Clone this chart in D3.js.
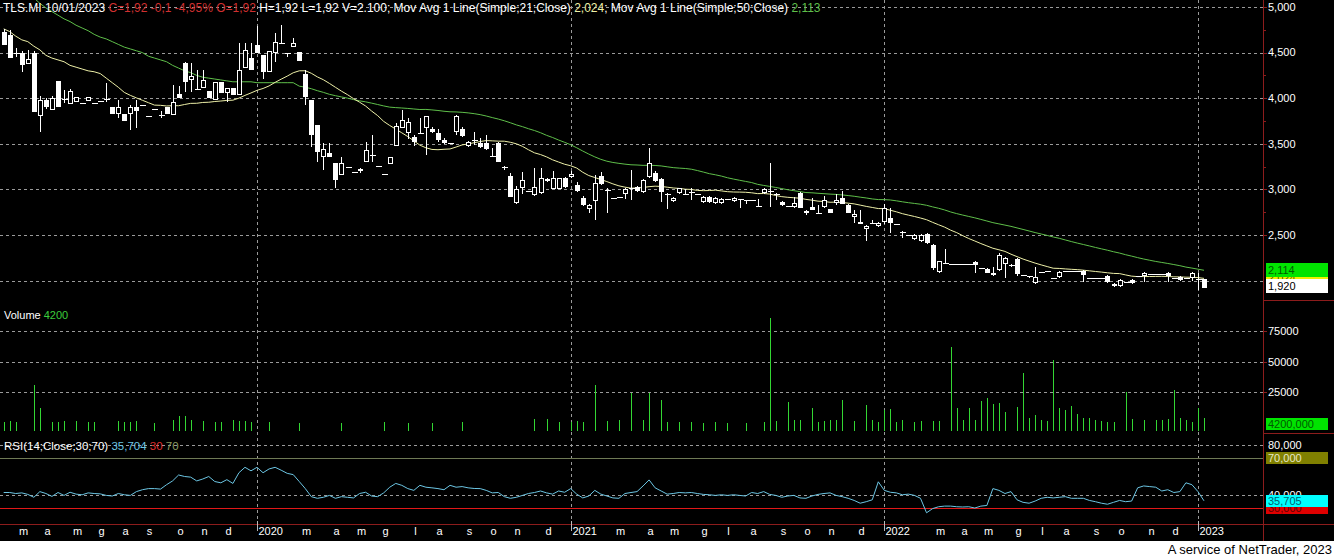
<!DOCTYPE html>
<html><head><meta charset="utf-8">
<script src="https://cdn.jsdelivr.net/npm/d3@7"></script>
<style>html,body{margin:0;padding:0;background:#000;overflow:hidden}svg{display:block}</style>
</head><body>
<svg id="chart" width="1334" height="559"></svg>
<script>
// ---------------- DATA (weekly bars, TLS.MI) ----------------
const firstWeek = "2019-02-11";
const lastWeek = "2023-01-09";
const noTradeWeeks = ["2019-07-01","2019-07-08","2019-07-15","2019-07-22","2019-07-29"];
const opens = [
4.73,4.69,4.50,4.50,4.38,4.50,3.81,3.98,3.87,4.19,3.99,3.94,3.96,3.95,3.97,3.95,3.97,3.99,3.90,3.83,
3.83,3.83,3.90,3.93,3.80,3.88,3.82,3.90,3.82,4.05,4.39,4.20,4.10,4.11,4.08,3.98,4.18,4.06,4.11,4.03,
4.33,4.44,4.58,
4.47,4.29,4.50,4.61,4.50,4.56,4.51,4.27,3.98,3.71,3.35,3.40,3.29,3.16,3.25,3.19,3.20,3.30,3.38,3.26,
3.17,3.28,3.48,3.67,3.62,3.57,3.62,3.67,3.66,3.62,3.54,3.51,3.63,3.66,3.48,3.54,3.51,3.51,3.37,3.51,
3.25,3.15,2.85,3.02,2.98,2.94,2.96,3.11,3.00,3.00,3.12,
3.14,3.05,2.91,2.79,2.87,3.15,2.99,2.91,2.92,2.95,3.01,3.03,2.97,3.14,3.18,3.11,2.95,2.87,2.96,2.95,
2.97,2.95,2.86,2.92,2.85,2.85,2.89,2.87,2.89,2.88,2.88,2.82,2.96,2.97,2.95,2.86,2.82,2.81,2.96,2.76,
2.81,2.74,2.81,2.78,2.85,2.91,2.83,2.70,2.64,2.57,2.63,2.60,
2.64,2.69,2.62,2.53,2.50,2.46,2.43,2.51,2.39,2.09,2.19,2.18,2.18,2.18,2.18,2.20,2.14,2.13,2.08,2.12,
2.18,2.17,2.24,2.06,2.05,1.97,2.09,2.11,2.03,2.04,2.10,2.10,2.10,2.11,2.03,2.03,2.03,2.05,1.96,1.94,
1.98,2.01,2.05,2.05,2.07,2.07,2.07,2.08,2.03,2.04,2.03,2.03,2.02,2.02];
const highs = [
4.76,4.75,4.55,4.52,4.53,4.52,4.02,4.00,4.02,4.19,4.09,4.10,4.01,3.95,4.01,3.95,3.97,4.17,3.90,3.98,
3.83,3.92,3.98,3.93,3.80,3.88,3.86,3.90,4.14,4.13,4.40,4.39,4.31,4.31,4.08,4.18,4.18,4.11,4.11,4.61,
4.61,4.61,4.79,
4.47,4.52,4.72,4.80,4.50,4.66,4.51,4.31,3.98,3.71,3.51,3.51,3.29,3.36,3.25,3.19,3.24,3.52,3.60,3.26,
3.17,3.35,3.73,3.87,3.78,3.60,3.78,3.80,3.68,3.66,3.56,3.51,3.82,3.68,3.53,3.63,3.56,3.60,3.45,3.52,
3.26,3.18,3.04,3.19,2.98,3.23,3.23,3.13,3.20,3.13,3.14,
3.20,3.08,2.93,2.84,3.16,3.19,3.01,2.91,2.92,3.01,3.21,3.04,3.11,3.45,3.20,3.12,2.96,2.92,3.02,3.00,
3.01,2.95,2.93,2.93,2.92,2.91,2.89,2.92,2.90,2.88,2.88,2.90,3.01,3.29,2.96,2.87,2.82,2.92,2.97,2.77,
2.91,2.83,2.93,2.79,2.95,2.98,2.84,2.77,2.77,2.61,2.66,2.64,
2.84,2.80,2.62,2.54,2.50,2.51,2.51,2.52,2.40,2.22,2.35,2.18,2.18,2.18,2.18,2.21,2.14,2.14,2.15,2.30,
2.26,2.18,2.25,2.06,2.05,2.15,2.09,2.11,2.03,2.10,2.10,2.10,2.10,2.12,2.03,2.03,2.03,2.06,1.97,2.02,
1.98,2.02,2.05,2.09,2.07,2.07,2.07,2.09,2.03,2.05,2.03,2.09,2.08,2.02];
const lows = [
4.58,4.44,4.45,4.29,4.38,3.85,3.63,3.88,3.87,3.90,3.95,3.94,3.96,3.95,3.97,3.95,3.97,3.96,3.83,3.78,
3.75,3.65,3.67,3.93,3.80,3.88,3.78,3.83,3.82,4.00,4.07,4.07,4.10,4.11,4.00,3.98,4.06,3.96,4.03,4.03,
4.33,4.31,4.50,
4.21,4.29,4.40,4.61,4.45,4.56,4.41,3.93,3.46,3.30,3.21,3.36,3.02,3.16,3.25,3.19,3.18,3.30,3.30,3.26,
3.17,3.28,3.48,3.67,3.55,3.48,3.62,3.38,3.62,3.52,3.50,3.51,3.60,3.57,3.46,3.49,3.45,3.43,3.36,3.30,
3.21,2.92,2.84,2.95,2.98,2.93,2.95,3.08,3.00,3.00,3.02,
3.13,2.97,2.82,2.74,2.66,3.05,2.74,2.91,2.92,2.90,2.88,2.97,2.96,3.13,3.08,2.86,2.78,2.86,2.95,2.95,
2.88,2.95,2.85,2.85,2.84,2.84,2.89,2.86,2.80,2.84,2.88,2.82,2.95,2.81,2.88,2.82,2.82,2.80,2.80,2.72,
2.77,2.74,2.80,2.74,2.83,2.84,2.74,2.63,2.62,2.43,2.63,2.59,
2.62,2.52,2.62,2.47,2.50,2.45,2.42,2.40,2.12,2.08,2.19,2.18,2.18,2.18,2.18,2.08,2.14,2.08,2.05,2.11,
2.03,2.15,2.05,2.06,2.03,1.96,2.09,2.11,2.03,2.03,2.10,2.10,2.10,1.98,2.03,2.03,2.03,1.97,1.93,1.93,
1.98,1.96,2.05,1.98,2.07,2.07,2.07,1.98,2.03,2.00,2.03,2.00,1.90,1.92];
const closes = [
4.58,4.44,4.48,4.36,4.43,3.85,3.98,3.90,4.00,3.90,3.98,4.08,4.01,3.95,4.01,3.95,3.97,3.98,3.83,3.90,
3.75,3.90,3.86,3.93,3.80,3.88,3.80,3.83,3.96,4.00,4.18,4.24,4.10,4.20,4.00,4.18,4.06,4.11,4.03,4.31,
4.53,4.31,4.50,
4.29,4.52,4.62,4.61,4.50,4.61,4.41,4.01,3.60,3.41,3.44,3.36,3.10,3.29,3.25,3.19,3.22,3.43,3.37,3.26,
3.17,3.35,3.69,3.76,3.74,3.52,3.62,3.80,3.63,3.54,3.51,3.51,3.80,3.59,3.52,3.53,3.46,3.44,3.37,3.30,
3.25,2.92,3.00,3.10,2.98,3.03,3.12,3.09,3.12,3.12,3.03,
3.17,2.98,2.83,2.83,3.07,3.06,2.99,2.91,2.92,3.00,3.01,2.98,3.10,3.29,3.09,2.97,2.95,2.91,3.01,2.95,
2.97,2.95,2.92,2.86,2.91,2.90,2.89,2.91,2.89,2.88,2.88,2.82,3.00,2.98,2.95,2.83,2.82,2.85,2.80,2.74,
2.77,2.74,2.88,2.74,2.88,2.84,2.74,2.73,2.62,2.60,2.63,2.63,
2.80,2.63,2.62,2.52,2.50,2.50,2.50,2.41,2.14,2.21,2.19,2.18,2.18,2.18,2.18,2.17,2.14,2.08,2.06,2.28,
2.25,2.16,2.07,2.06,2.05,2.04,2.09,2.11,2.03,2.09,2.10,2.10,2.10,2.06,2.03,2.03,2.03,1.98,1.94,2.01,
1.98,1.97,2.05,2.08,2.07,2.07,2.07,2.05,2.03,2.01,2.03,2.08,2.02,1.92];
// weekly volume (0 = no bar shown)
const volumes = [
1000,1500,1000,0,0,31000,12300,0,500,1000,1500,0,1500,0,1000,1000,0,0,0,1500,
1000,500,1500,0,0,200,0,0,2500,5700,5700,2500,0,1500,0,1000,1000,0,2500,1500,
2000,1000,0,
0,500,0,0,0,0,200,0,0,0,0,0,0,200,0,0,0,0,0,0,
500,0,0,0,200,0,0,0,200,0,0,0,0,500,0,0,0,0,0,0,
0,0,0,0,0,3300,0,3300,0,1000,0,
1000,1500,1000,0,31000,0,2000,0,2500,0,24600,0,2500,24600,0,18900,500,0,500,0,
500,0,200,0,500,0,200,0,0,200,0,0,1000,86000,1600,0,17200,2500,2500,0,
12300,1000,1600,2500,2500,18900,0,1600,0,14800,2500,500,
10700,11500,1000,2500,0,1000,1600,0,1600,1600,0,62300,12300,2500,12300,2500,18000,20500,15600,16400,
9000,0,13100,41000,4100,6600,2500,1600,51700,12300,10700,13900,7400,4100,4100,2500,1600,1000,500,0,
25400,3300,0,2500,0,2500,2500,3300,27000,4100,2500,1000,12300,4200];
// RSI(14) per bar
const rsi = [
42.3,42.3,41.5,42.0,40.8,38.5,43.0,41.5,39.2,42.3,40.0,42.5,41.0,40.5,42.0,41.5,41.2,40.0,39.5,41.5,
40.5,40.0,43.0,44.5,45.4,45.4,45.0,48.5,51.5,56.2,55.0,54.5,51.5,53.0,55.0,51.0,50.0,52.5,49.5,58.0,
62.3,59.5,62.3,58.0,61.0,62.3,60.0,57.5,56.5,51.0,45.4,39.0,37.7,38.5,40.0,37.7,39.0,38.5,38.0,41.5,
42.5,39.5,39.0,42.0,46.5,49.5,48.0,45.4,44.0,48.0,46.5,46.0,45.4,44.5,48.0,46.5,47.0,46.0,45.5,45.4,
44.0,42.0,42.3,39.0,37.7,38.5,40.0,41.5,42.3,43.5,42.0,41.0,43.5,42.5,45.4,41.0,38.0,39.5,44.0,41.0,
39.5,38.0,37.7,41.5,42.3,43.0,47.5,52.3,46.0,43.5,41.0,41.5,42.3,42.0,42.3,41.5,40.8,40.5,40.0,40.5,
40.0,40.5,40.0,39.5,42.3,41.5,43.0,40.8,40.0,38.5,39.5,40.0,38.0,37.7,39.5,40.8,41.5,42.0,40.0,39.0,
37.7,36.0,33.8,35.0,36.5,50.8,44.0,42.5,42.0,40.5,41.0,40.0,37.7,26.2,29.5,31.0,31.5,31.5,31.0,30.8,
31.0,30.0,31.5,32.0,45.4,44.0,41.5,43.0,36.5,34.5,33.8,35.5,37.7,38.5,38.0,38.5,39.0,37.7,37.7,37.7,
36.0,35.0,33.8,33.0,34.5,36.0,35.0,35.5,46.0,47.5,47.0,46.5,43.5,44.5,42.3,43.0,50.0,48.5,43.0,35.704];
// moving-average values for bars before the windows fill
const ma21Head = [4.76,4.73,4.68,4.64,4.62,4.57,4.53,4.47,4.44,4.42,4.40,4.36,4.34,4.32,4.30,4.29,4.27,4.22,4.17,4.12];
const ma50Head = [5.32,5.29,5.24,5.20,5.15,5.10,5.04,4.99,4.95,4.91,4.87,4.84,4.80,4.77,4.74,4.70,4.67,4.65,4.62,4.59,
4.56,4.54,4.52,4.50,4.46,4.44,4.42,4.40,4.36,4.33,4.30,4.28,4.25,4.23,4.22,4.21,4.20,4.19,4.18,4.18,
4.18,4.18,4.17,4.17,4.17,4.17,4.17,4.17,4.17];
// values printed in the right-hand marker boxes
const markerMa50 = 2.114, markerMa21 = 2.024, markerClose = 1.920, markerRsi = 35.705;
const lastVolume = 4200;
const priceTicks = [2.0,2.5,3.0,3.5,4.0,4.5,5.0];
const priceLabelTicks = [2.5,3.0,3.5,4.0,4.5,5.0];
const volumeTicks = [25000,50000,75000];
const rsiGridTicks = [40,80];
const monthLetters = ["g","f","m","a","m","g","l","a","s","o","n","d"];

// ---------------- LAYOUT ----------------
const W = 1334, H = 559;
const plotRight = 1263;
const svg = d3.select("#chart");
const FONT = "'Liberation Sans', Arial, sans-serif";
const n = closes.length;
const parse = d3.utcParse("%Y-%m-%d"), fmtDay = d3.utcFormat("%Y-%m-%d");
const dates = d3.utcMonday.range(parse(firstWeek), d3.utcDay.offset(parse(lastWeek), 1))
  .filter(d => !noTradeWeeks.includes(fmtDay(d)));
if (dates.length !== n) console.error("date count", dates.length, n);

const x = d3.scalePoint().domain(d3.range(n)).range([3.7, 1204]);
const yP = d3.scaleLinear().domain([2.0, 5.0]).range([280.6, 7]);
const yV = d3.scaleLinear().domain([0, 75000]).range([423, 331]);
const yR = d3.scaleLinear().domain([30, 80]).range([508, 445]);

const fmt3 = v => v.toFixed(3).replace(".", ",");
const px = v => Math.round(v) + 0.5;

svg.append("rect").attr("width", W).attr("height", H).attr("fill", "#000");
svg.append("rect").attr("x", 0).attr("y", 541).attr("width", W).attr("height", H - 541).attr("fill", "#fff");

const defs = svg.append("defs");
defs.append("clipPath").attr("id", "clipP").append("rect").attr("x", 0).attr("y", 0).attr("width", plotRight).attr("height", 300);
defs.append("clipPath").attr("id", "clipR").append("rect").attr("x", 0).attr("y", 434).attr("width", plotRight).attr("height", 87);

const gridCol = "#9a9a9a";
const gGrid = svg.append("g").attr("stroke", gridCol).attr("stroke-dasharray", "3,3").attr("shape-rendering", "crispEdges");
const hLine = y => gGrid.append("line").attr("x1", 0).attr("x2", plotRight).attr("y1", px(y)).attr("y2", px(y));
priceTicks.forEach(t => hLine(yP(t)));
volumeTicks.forEach(t => hLine(yV(t)));
rsiGridTicks.forEach(t => hLine(yR(t)));

const firstOfMonth = d3.range(1, n).filter(i => dates[i].getUTCMonth() !== dates[i - 1].getUTCMonth());
firstOfMonth.filter(i => dates[i].getUTCMonth() === 0).forEach(i => {
  gGrid.append("line").attr("x1", px(x(i))).attr("x2", px(x(i))).attr("y1", 0).attr("y2", 521);
});

// RSI level lines
svg.append("line").attr("x1", 0).attr("x2", plotRight).attr("y1", px(yR(70))).attr("y2", px(yR(70)))
  .attr("stroke", "#6f7a55").attr("shape-rendering", "crispEdges");
svg.append("line").attr("x1", 0).attr("x2", plotRight).attr("y1", px(yR(30))).attr("y2", px(yR(30)))
  .attr("stroke", "#e01818").attr("shape-rendering", "crispEdges");

// ---------------- VOLUME ----------------
svg.append("g").attr("stroke", "#33d633").attr("shape-rendering", "crispEdges")
  .selectAll("line").data(d3.range(n).filter(i => volumes[i] > 0)).join("line")
  .attr("x1", i => px(x(i))).attr("x2", i => px(x(i)))
  .attr("y1", 431).attr("y2", i => yV(volumes[i]));

// ---------------- MOVING AVERAGES ----------------
function sma(period, head) {
  return d3.range(n).map(i => i < head.length ? head[i] : d3.mean(closes.slice(i - period + 1, i + 1)));
}
const ma21 = sma(21, ma21Head);
const ma50 = sma(50, ma50Head);
const gP = svg.append("g").attr("clip-path", "url(#clipP)");
const line = d3.line().x((d, i) => x(i)).y(d => yP(d));
gP.append("path").attr("d", line(ma50)).attr("fill", "none").attr("stroke", "#5fbf4a").attr("stroke-width", 1);
gP.append("path").attr("d", line(ma21)).attr("fill", "none").attr("stroke", "#eef0a8").attr("stroke-width", 1);

// ---------------- CANDLES ----------------
const gC = gP.append("g").attr("shape-rendering", "crispEdges");
d3.range(n).forEach(i => {
  const o = opens[i], h = highs[i], l = lows[i], c = closes[i];
  const cx = px(x(i));
  if (h - l > 0.004) gC.append("line").attr("x1", cx).attr("x2", cx).attr("y1", yP(h)).attr("y2", yP(l)).attr("stroke", "#fff");
  const top = Math.round(yP(Math.max(o, c))), bot = Math.round(yP(Math.min(o, c)));
  if (bot - top < 2) {
    gC.append("line").attr("x1", cx - 2.5).attr("x2", cx + 3).attr("y1", top + 0.5).attr("y2", top + 0.5).attr("stroke", "#fff");
  } else if (c > o) {
    gC.append("rect").attr("x", cx - 2).attr("y", top + 0.5).attr("width", 4).attr("height", bot - top - 1)
      .attr("fill", "#000").attr("stroke", "#fff");
  } else {
    gC.append("rect").attr("x", cx - 2.5).attr("y", top).attr("width", 5).attr("height", bot - top).attr("fill", "#fff");
  }
});

// ---------------- RSI ----------------
svg.append("g").attr("clip-path", "url(#clipR)").append("path")
  .attr("d", d3.line().x((d, i) => x(i)).y(d => yR(d))(rsi))
  .attr("fill", "none").attr("stroke", "#6cc6e4").attr("stroke-width", 1);

// ---------------- FRAME / AXES ----------------
const red = "#8c1c1c";
const gF = svg.append("g").attr("stroke", red).attr("shape-rendering", "crispEdges");
gF.append("line").attr("x1", plotRight + 0.5).attr("x2", plotRight + 0.5).attr("y1", 0).attr("y2", 541);
gF.append("line").attr("x1", plotRight).attr("x2", W).attr("y1", 300.5).attr("y2", 300.5);
gF.append("line").attr("x1", plotRight).attr("x2", W).attr("y1", 433.5).attr("y2", 433.5);
gF.append("line").attr("x1", 0).attr("x2", W).attr("y1", 524.5).attr("y2", 524.5);

const axisText = (y, t) => svg.append("text").attr("x", 1268).attr("y", y).attr("dy", "0.35em")
  .attr("fill", "#fff").attr("font-family", FONT).attr("font-size", 11).text(t);
priceLabelTicks.forEach(t => {
  gF.append("line").attr("x1", plotRight).attr("x2", plotRight + 4).attr("y1", px(yP(t))).attr("y2", px(yP(t)));
  gF.append("line").attr("x1", plotRight).attr("x2", plotRight + 3).attr("y1", px(yP(t + 0.25))).attr("y2", px(yP(t + 0.25)));
  axisText(yP(t), fmt3(t));
});
volumeTicks.forEach(t => {
  gF.append("line").attr("x1", plotRight).attr("x2", plotRight + 4).attr("y1", px(yV(t))).attr("y2", px(yV(t)));
  axisText(yV(t), String(t));
});
rsiGridTicks.forEach(t => axisText(yR(t), fmt3(t)));

// value boxes
function box(yc, h, txt, bg, fg) {
  svg.append("rect").attr("x", 1266).attr("y", Math.round(yc - h / 2)).attr("width", 62).attr("height", h).attr("fill", bg);
  svg.append("text").attr("x", 1268).attr("y", yc).attr("dy", "0.36em").attr("fill", fg)
    .attr("font-family", FONT).attr("font-size", 11).text(txt);
}
box(yP(markerMa21), 14, fmt3(markerMa21), "#f0f000", "#555500");
box(yP(markerMa50), 14, fmt3(markerMa50), "#00e400", "#005a00");
box(yP(markerClose) - 2, 14, fmt3(markerClose), "#ffffff", "#000");
box(Math.min(yV(lastVolume) + 6, 426), 12, lastVolume + ",000", "#00e400", "#005a00");
box(yR(70), 12, fmt3(70), "#808000", "#e8e8c8");
box(yR(30), 12, fmt3(30), "#e00000", "#600000");
box(yR(markerRsi), 12, fmt3(markerRsi), "#00ffff", "#006070");

// x axis labels
const gX = svg.append("g");
firstOfMonth.forEach(i => {
  const d = dates[i], m = d.getUTCMonth();
  const xi = px(x(i));
  if (m === 0) {
    gX.append("line").attr("x1", xi).attr("x2", xi).attr("y1", 521).attr("y2", 531).attr("stroke", "#bbb").attr("shape-rendering", "crispEdges");
    gX.append("text").attr("x", xi + 1).attr("y", 535).attr("fill", "#fff").attr("font-family", FONT).attr("font-size", 11).text(d.getUTCFullYear());
  } else if (m !== 1) {
    gX.append("text").attr("x", xi + 1).attr("y", 535).attr("text-anchor", "middle").attr("fill", "#fff")
      .attr("font-family", FONT).attr("font-size", 11).text(monthLetters[m]);
  }
});

// footer
svg.append("text").attr("x", 1332).attr("y", 554).attr("text-anchor", "end").attr("fill", "#000")
  .attr("font-family", FONT).attr("font-size", 13).text("A service of NetTrader, 2023");

// ---------------- HEADERS ----------------
const hdr = svg.append("text").attr("x", 3).attr("y", 12).attr("font-family", FONT).attr("font-size", 12).attr("xml:space", "preserve");
hdr.append("tspan").attr("fill", "#fff").text("TLS.MI 10/01/2023 ");
hdr.append("tspan").attr("fill", "#d03030").text("C=1,92 -0,1 -4,95% O=1,92");
hdr.append("tspan").attr("fill", "#fff").text(" H=1,92 L=1,92 V=2.100; Mov Avg 1 Line(Simple;21;Close) ");
hdr.append("tspan").attr("fill", "#eef0a8").text(fmt3(ma21[n - 1]));
hdr.append("tspan").attr("fill", "#fff").text("; Mov Avg 1 Line(Simple;50;Close) ");
hdr.append("tspan").attr("fill", "#5fbf4a").text(fmt3(ma50[n - 1]));

const vh = svg.append("text").attr("x", 4).attr("y", 319).attr("font-family", FONT).attr("font-size", 11).attr("xml:space", "preserve");
vh.append("tspan").attr("fill", "#fff").text("Volume ");
vh.append("tspan").attr("fill", "#3ccc3c").text(String(lastVolume));

const rh = svg.append("text").attr("x", 4).attr("y", 450).attr("font-family", FONT).attr("font-size", 11.5).attr("xml:space", "preserve");
rh.append("tspan").attr("fill", "#fff").text("RSI(14;Close;30;70) ");
rh.append("tspan").attr("fill", "#6cc6e4").text(fmt3(rsi[n - 1]));
rh.append("tspan").attr("fill", "#e03030").text(" 30");
rh.append("tspan").attr("fill", "#8a9a60").text(" 70");
</script>
</body></html>
